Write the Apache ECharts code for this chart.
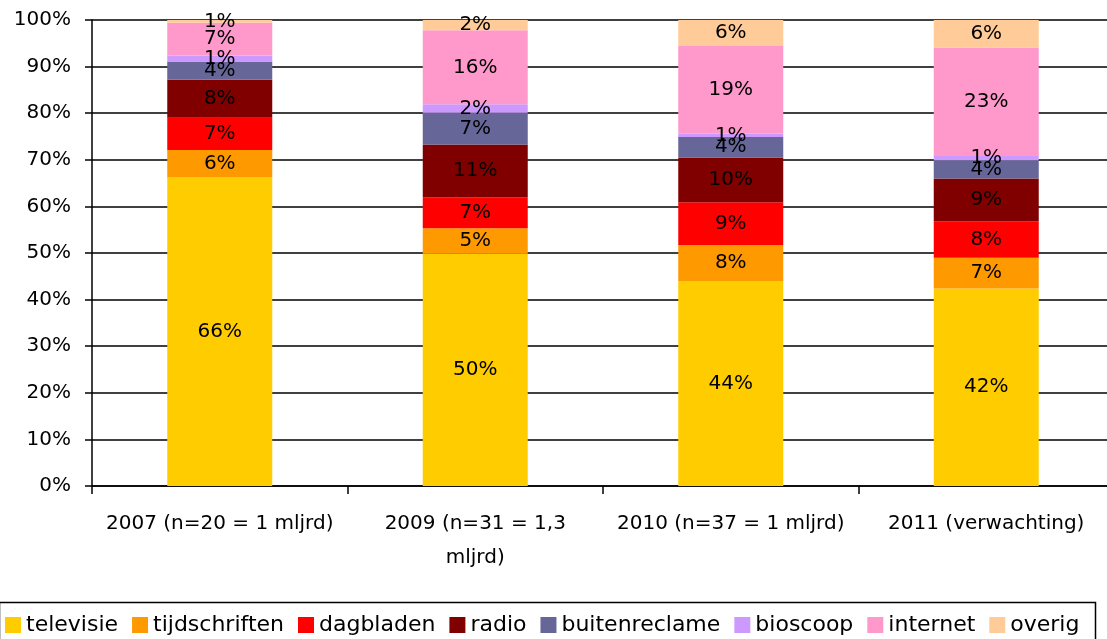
<!DOCTYPE html>
<html>
<head>
<meta charset="utf-8">
<script src="https://cdn.jsdelivr.net/npm/echarts@6/dist/echarts.min.js"></script>
<style>
html,body{margin:0;padding:0;background:#fff;}
#chart{width:1107px;height:639px;}
</style>
</head>
<body>
<div id="chart"></div>
<script>
const categories = ["2007 (n=20 = 1 mljrd)", "2009 (n=31 = 1,3\nmljrd)", "2010 (n=37 = 1 mljrd)", "2011 (verwachting)"];
const seriesNames = ["televisie", "tijdschriften", "dagbladen", "radio", "buitenreclame", "bioscoop", "internet", "overig"];
const seriesColors = ["#FFCC00", "#FF9900", "#FF0000", "#800000", "#666699", "#CC99FF", "#FF99CC", "#FFCC99"];
const televisie     = [66.2, 49.9, 44.0, 42.4];
const tijdschriften = [5.9, 5.4, 7.7, 6.6];
const dagbladen     = [6.9, 6.6, 9.2, 7.8];
const radio         = [8.2, 11.4, 9.6, 9.2];
const buitenreclame = [3.9, 6.8, 4.4, 3.9];
const bioscoop      = [1.3, 1.8, 0.7, 0.9];
const internet      = [7.0, 15.9, 18.8, 23.3];
const overig        = [0.6, 2.2, 5.6, 5.9];
const yTicks = [0, 10, 20, 30, 40, 50, 60, 70, 80, 90, 100];

const seriesData = [televisie, tijdschriften, dagbladen, radio, buitenreclame, bioscoop, internet, overig];
const FONT = "DejaVu Sans";

const chart = echarts.init(document.getElementById('chart'), null, {renderer: 'canvas'});
chart.setOption({
  animation: false,
  backgroundColor: '#fff',
  grid: {left: 92, top: 20, width: 1022, height: 466, containLabel: false, outerBoundsMode: 'none'},
  legend: {
    left: -3, top: 610,
    padding: [4, 8],
    itemWidth: 16, itemHeight: 16, itemGap: 14,
    icon: 'rect',
    textStyle: {fontFamily: FONT, fontSize: 22, color: '#000', padding: [0, 0, 0, 0]},
    data: seriesNames
  },
  graphic: [{
    type: 'rect', left: -3, top: 600,
    shape: {width: 1096, height: 50},
    style: {fill: 'none', stroke: '#000', lineWidth: 1.5},
    silent: true, z: 100
  }],
  xAxis: {
    type: 'category',
    data: categories,
    axisLine: {show: true, lineStyle: {color: '#000', width: 1.5}},
    axisTick: {show: true, interval: 0, length: 8, lineStyle: {color: '#000', width: 1.5}},
    axisLabel: {interval: 0, fontFamily: FONT, fontSize: 20, color: '#000', margin: 21, lineHeight: 34}
  },
  yAxis: {
    type: 'value', min: 0, max: 100, interval: 10,
    axisLine: {show: true, lineStyle: {color: '#000', width: 1.5}},
    axisTick: {show: true, length: 7, lineStyle: {color: '#000', width: 1.5}},
    splitLine: {show: true, lineStyle: {color: '#000', width: 1.5}},
    axisLabel: {fontFamily: FONT, fontSize: 20, color: '#000', margin: 21,
      formatter: v => yTicks.includes(v) ? v + '%' : ''}
  },
  series: seriesNames.map((name, i) => ({
    name: name,
    type: 'bar',
    stack: 'total',
    barWidth: 105,
    itemStyle: {color: seriesColors[i]},
    label: {
      show: true, position: 'inside',
      fontFamily: FONT, fontSize: 20, color: '#000',
      formatter: p => Math.round(p.value) + '%'
    },
    labelLayout: {hideOverlap: false},
    data: seriesData[i]
  }))
});
</script>
</body>
</html>
